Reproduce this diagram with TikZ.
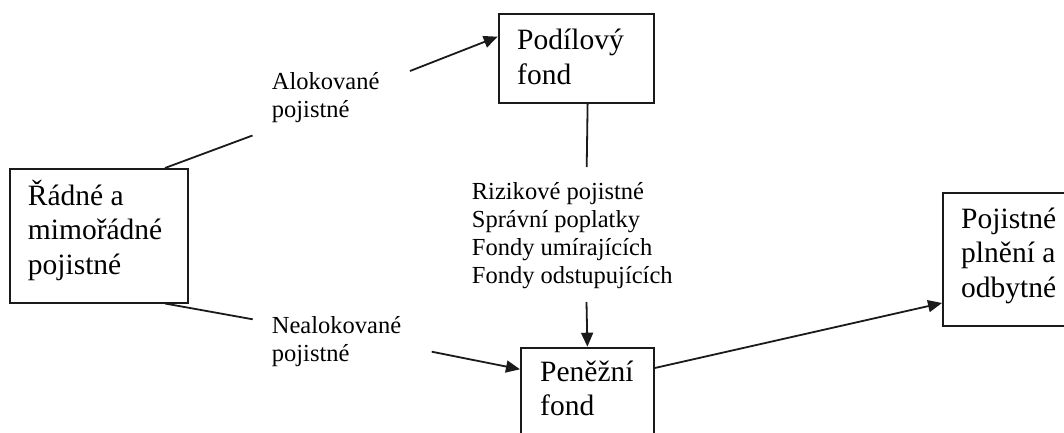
\documentclass[tikz,border=0pt]{standalone}
\usepackage{fontspec}
\setmainfont{Liberation Serif}
\usetikzlibrary{arrows.meta}
\definecolor{linec}{HTML}{1A1A1A}
\newcommand\txtlines[1]{\begin{tabular}[t]{@{}l@{}}#1\end{tabular}}
\begin{document}
\begin{tikzpicture}[x=1pt,y=-1pt,
  boxn/.style={draw=linec, line width=1.8pt, inner sep=0pt, anchor=north west},
  bigtxt/.style={inner sep=0pt, anchor=base west, font=\fontsize{29.5}{34.5}\selectfont},
  smalltxt/.style={inner sep=0pt, anchor=base west, font=\fontsize{24.5}{28}\selectfont},
  conn/.style={draw=linec, line width=1.8pt},
  arr/.style={conn, -{Triangle[length=14pt,width=12pt]}}]
\useasboundingbox (0,0) rectangle (1064,433);
\clip (0,0) rectangle (1064,433);
% boxes
\node[boxn, minimum width=177.4pt, minimum height=133.7pt] (rad) at (9.3,168) {};
\node[boxn, minimum width=155pt, minimum height=89pt] (pod) at (497.7,13.3) {};
\node[boxn, minimum width=133pt, minimum height=110pt] (pen) at (520,346.7) {};
\node[boxn, minimum width=140pt, minimum height=133pt] (poj) at (942,192) {};
% box texts
\node[bigtxt] (radt) at (27.7,205) {\txtlines{Řádné a\\mimořádné\\pojistné}};
\node[bigtxt] (podt) at (517,50) {\txtlines{Podílový\\fond}};
\node[bigtxt] (pent) at (540,381) {\txtlines{Peněžní\\fond}};
\node[bigtxt] (pojt) at (961,228) {\txtlines{Pojistné\\plnění a\\odbytné}};
% labels
\node[smalltxt] (alok) at (271.7,89.3) {\txtlines{Alokované\\pojistné}};
\node[smalltxt] (nealok) at (271.7,333.3) {\txtlines{Nealokované\\pojistné}};
\node[smalltxt, font=\fontsize{24.5}{28.2}\selectfont] (mid) at (471.7,199) {\txtlines{Rizikové pojistné\\Správní poplatky\\Fondy umírajících\\Fondy odstupujících}};
% connector break points
\coordinate (a1) at (252.5,135.5);
\coordinate (a2) at (410,71);
\coordinate (n1) at (252.7,319.3);
\coordinate (n2) at (431.7,351.7);
\coordinate (v1) at (586.7,167);
\coordinate (v2) at (586.5,302);
% connectors
\draw[conn] ([xshift=155.7pt]rad.north west) -- (a1);
\draw[arr] (a2) -- ([yshift=-23.4pt]pod.north west);
\draw[conn] ([xshift=155.7pt]rad.south west) -- (n1);
\draw[arr] (n2) -- ([yshift=-22.6pt]pen.north west);
\draw[conn] ([xshift=11.5pt]pod.south) -- (v1);
\draw[arr] (v2) -- (pen.north);
\draw[arr] ([yshift=-21.3pt]pen.north east) -- ([yshift=-111pt]poj.north west);
\end{tikzpicture}
\end{document}
